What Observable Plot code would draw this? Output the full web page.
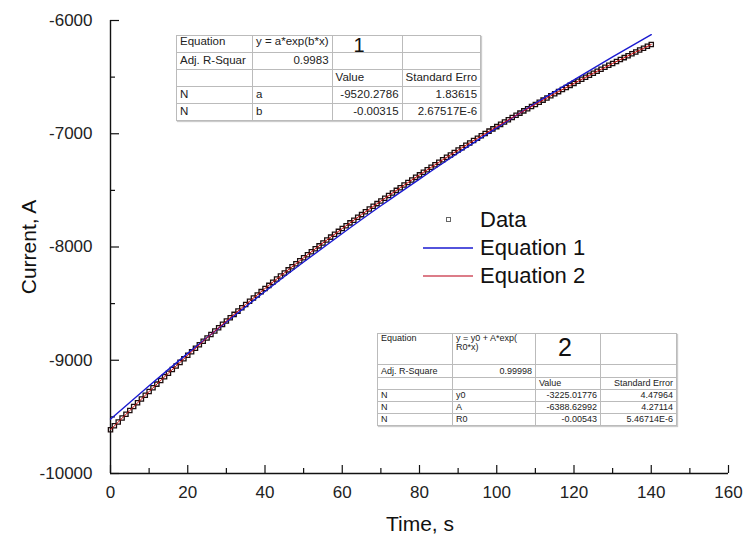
<!DOCTYPE html>
<html><head><meta charset="utf-8">
<script src="https://cdn.jsdelivr.net/npm/d3@7"></script>
<script src="https://cdn.jsdelivr.net/npm/@observablehq/plot@0.6"></script>
<style>
body{margin:0;background:#fff;font-family:"Liberation Sans",Arial,sans-serif;}
#wrap{position:relative;width:746px;height:537px;overflow:hidden;background:#fff;}
#wrap svg{position:absolute;left:0;top:0;}
.ovl{position:absolute;white-space:nowrap;color:#111;}
table.fit{position:absolute;border-collapse:collapse;background:#fff;border:1px solid #888;box-shadow:1px 1px 1px #ccc;table-layout:fixed;color:#222;}
table.fit td{border:1px solid #bbb;padding:0 3px;overflow:visible;white-space:nowrap;line-height:1;}
table.fit td.r{text-align:right;}
#t1 td{font-size:11.5px;height:15px;}
#t2 td{font-size:9px;height:11px;}
.big{position:absolute;font-family:"Liberation Sans",Arial,sans-serif;color:#111;line-height:1;}
.leg{position:absolute;font-size:22px;color:#111;line-height:1;}
</style></head><body><div id="wrap"></div>
<script>
// ---- data ----
const dataTime = d3.range(0, 141, 1);
const dataCurrent = [
-9614, -9579, -9545, -9510, -9476, -9443, -9409, -9375, -9342, -9309,
-9276, -9243, -9211, -9178, -9146, -9114, -9082, -9050, -9019, -8987,
-8956, -8925, -8894, -8864, -8833, -8803, -8772, -8742, -8713, -8683,
-8653, -8624, -8595, -8566, -8537, -8508, -8479, -8451, -8423, -8394,
-8366, -8339, -8311, -8283, -8256, -8229, -8202, -8175, -8148, -8121,
-8095, -8068, -8042, -8016, -7990, -7964, -7939, -7913, -7888, -7862,
-7837, -7812, -7787, -7763, -7738, -7714, -7689, -7665, -7641, -7617,
-7594, -7570, -7546, -7523, -7500, -7477, -7453, -7431, -7408, -7385,
-7363, -7340, -7318, -7296, -7274, -7252, -7230, -7208, -7187, -7165,
-7144, -7123, -7102, -7081, -7060, -7039, -7018, -6998, -6977, -6957,
-6937, -6917, -6897, -6877, -6857, -6837, -6818, -6798, -6779, -6760,
-6741, -6722, -6703, -6684, -6665, -6646, -6628, -6610, -6591, -6573,
-6555, -6537, -6519, -6501, -6483, -6466, -6448, -6431, -6413, -6396,
-6379, -6362, -6345, -6328, -6311, -6294, -6278, -6261, -6245, -6228,
-6212];
const fitTime = [0, 10, 20, 30, 40, 50, 60, 70, 80, 90, 100, 110, 120, 130, 140];
const eq1Current = [-9520, -9225, -8939, -8662, -8393, -8133, -7881, -7636, -7400, -7170, -6948, -6732, -6524, -6321, -6125];
const eq2Current = [-9614, -9276, -8956, -8653, -8366, -8095, -7837, -7594, -7363, -7144, -6937, -6741, -6555, -6379, -6212];
const xTicks = [0, 20, 40, 60, 80, 100, 120, 140, 160];
const xMinorTicks = [10, 30, 50, 70, 90, 110, 130, 150];
const yTicks = [-10000, -9000, -8000, -7000, -6000];
const yMinorTicks = [-9500, -8500, -7500, -6500];
const seriesNames = ["Data", "Equation 1", "Equation 2"];
const table1Rows = [
  ["Equation", "y = a*exp(b*x)", "", ""],
  ["Adj. R-Squar", "0.9983", "", ""],
  ["", "", "Value", "Standard Erro"],
  ["N", "a", "-9520.2786", "1.83615"],
  ["N", "b", "-0.00315", "2.67517E-6"]
];
const table2Rows = [
  ["Equation", "y = y0 + A*exp(<br>R0*x)", "", ""],
  ["Adj. R-Square", "0.99998", "", ""],
  ["", "", "Value", "Standard Error"],
  ["N", "y0", "-3225.01776", "4.47964"],
  ["N", "A", "-6388.62992", "4.27114"],
  ["N", "R0", "-0.00543", "5.46714E-6"]
];

const dataRows = dataTime.map((t, i) => ({t, c: dataCurrent[i]}));
const eq1Rows = fitTime.map((t, i) => ({t, c: eq1Current[i]}));
const eq2Rows = fitTime.map((t, i) => ({t, c: eq2Current[i]}));
const xMin = 0, yMin = -10000;
const W = 746, H = 537, ML = 110, MR = 18, MT = 20, MB = 64;
const plotW = W - ML - MR, plotH = H - MT - MB;

const chart = Plot.plot({
  width: W, height: H,
  marginLeft: ML, marginRight: MR, marginTop: MT, marginBottom: MB,
  style: {fontFamily: "Liberation Sans, Arial, sans-serif", fontSize: "17px", color: "#222", background: "transparent", overflow: "visible"},
  x: {domain: [0, 160]},
  y: {domain: [-10000, -6000]},
  marks: [
    Plot.axisX({ticks: xTicks, tickSize: 0, tickPadding: 12, label: null, tickFormat: d => String(d)}),
    Plot.axisY({ticks: yTicks, tickSize: 0, tickPadding: 18, label: null, tickFormat: d => String(d)}),
    // inward ticks
    Plot.tickX(xTicks, {x: d => d, insetTop: plotH - 8, stroke: "#111", strokeWidth: 1.2}),
    Plot.tickX(xMinorTicks, {x: d => d, insetTop: plotH - 5, stroke: "#111", strokeWidth: 1.2}),
    Plot.tickY(yTicks, {y: d => d, insetRight: plotW - 9, stroke: "#111", strokeWidth: 1.2}),
    Plot.tickY(yMinorTicks, {y: d => d, insetRight: plotW - 5, stroke: "#111", strokeWidth: 1.2}),
    Plot.ruleX([xMin], {stroke: "#111", strokeWidth: 1.4}),
    Plot.ruleY([yMin], {stroke: "#111", strokeWidth: 1.4}),
    Plot.dot(dataRows, {x: "t", y: "c", symbol: "square", r: 2.4, stroke: "#1c0e0e", strokeWidth: 1.3, fill: "none"}),
    Plot.line(eq1Rows, {x: "t", y: "c", stroke: "#1a1ad0", strokeWidth: 1.4, curve: "natural"}),
    Plot.line(eq2Rows, {x: "t", y: "c", stroke: "#d01010", strokeWidth: 1, curve: "natural"})
  ]
});
const wrap = document.getElementById("wrap");
wrap.appendChild(chart);

function addText(txt, x, y, size, rotate) {
  const d = document.createElement("div");
  d.className = "ovl";
  d.textContent = txt;
  d.style.fontSize = size + "px";
  d.style.left = x + "px"; d.style.top = y + "px";
  d.style.transform = "translate(-50%,-50%)" + (rotate ? " rotate(-90deg)" : "");
  wrap.appendChild(d);
}
addText("Time, s", 420, 524, 21, false);
addText("Current, A", 29, 247, 21, true);

// legend
const legendColors = [null, "#1a1ad0", "#d05060"];
const legendY = [220, 248, 276];
seriesNames.forEach((name, i) => {
  const s = document.createElementNS("http://www.w3.org/2000/svg", "svg");
  s.setAttribute("width", 52); s.setAttribute("height", 10);
  s.style.position = "absolute"; s.style.left = "422px"; s.style.top = (legendY[i] - 5) + "px";
  if (i === 0) {
    s.innerHTML = `<rect x="24.5" y="2.5" width="4" height="4" fill="none" stroke="#666" stroke-width="1"/>`;
  } else {
    s.innerHTML = `<line x1="1" x2="51" y1="5" y2="5" stroke="${legendColors[i]}" stroke-width="1.3"/>`;
  }
  wrap.appendChild(s);
  const t = document.createElement("div");
  t.className = "leg"; t.textContent = name;
  t.style.left = "480px"; t.style.top = (legendY[i] - 11) + "px";
  wrap.appendChild(t);
});

function buildTable(id, rows, left, top, colW, rowH, rightCols) {
  const tb = document.createElement("table");
  tb.className = "fit"; tb.id = id;
  tb.style.left = left + "px"; tb.style.top = top + "px";
  const cg = document.createElement("colgroup");
  colW.forEach(w => { const c = document.createElement("col"); c.style.width = w + "px"; cg.appendChild(c); });
  tb.appendChild(cg);
  rows.forEach((r, ri) => {
    const tr = document.createElement("tr");
    r.forEach((cell, ci) => {
      const td = document.createElement("td");
      td.innerHTML = cell;
      td.style.height = rowH[ri] + "px";
      if (rightCols(ri, ci)) td.className = "r";
      if (ri === 0) td.style.verticalAlign = "top";
      tr.appendChild(td);
    });
    tb.appendChild(tr);
  });
  wrap.appendChild(tb);
}
buildTable("t1", table1Rows, 176, 35, [76, 77, 70, 77], [16, 16, 16, 16, 16],
  (ri, ci) => (ri === 1 && ci === 1) || (ri >= 3 && ci >= 2));
buildTable("t2", table2Rows, 377, 333, [75, 83, 65, 76], [30, 12, 11, 11, 11, 11],
  (ri, ci) => (ri === 1 && ci === 1) || (ri >= 3 && ci >= 2) || (ri === 2 && ci === 3));

function big(txt, x, y, size) {
  const d = document.createElement("div");
  d.className = "big"; d.textContent = txt;
  d.style.fontSize = size + "px"; d.style.left = x + "px"; d.style.top = y + "px";
  d.style.transform = "translate(-50%,-50%)";
  wrap.appendChild(d);
}
big("1", 359, 45, 20);
big("2", 565, 347, 25);
</script>
</body></html>
